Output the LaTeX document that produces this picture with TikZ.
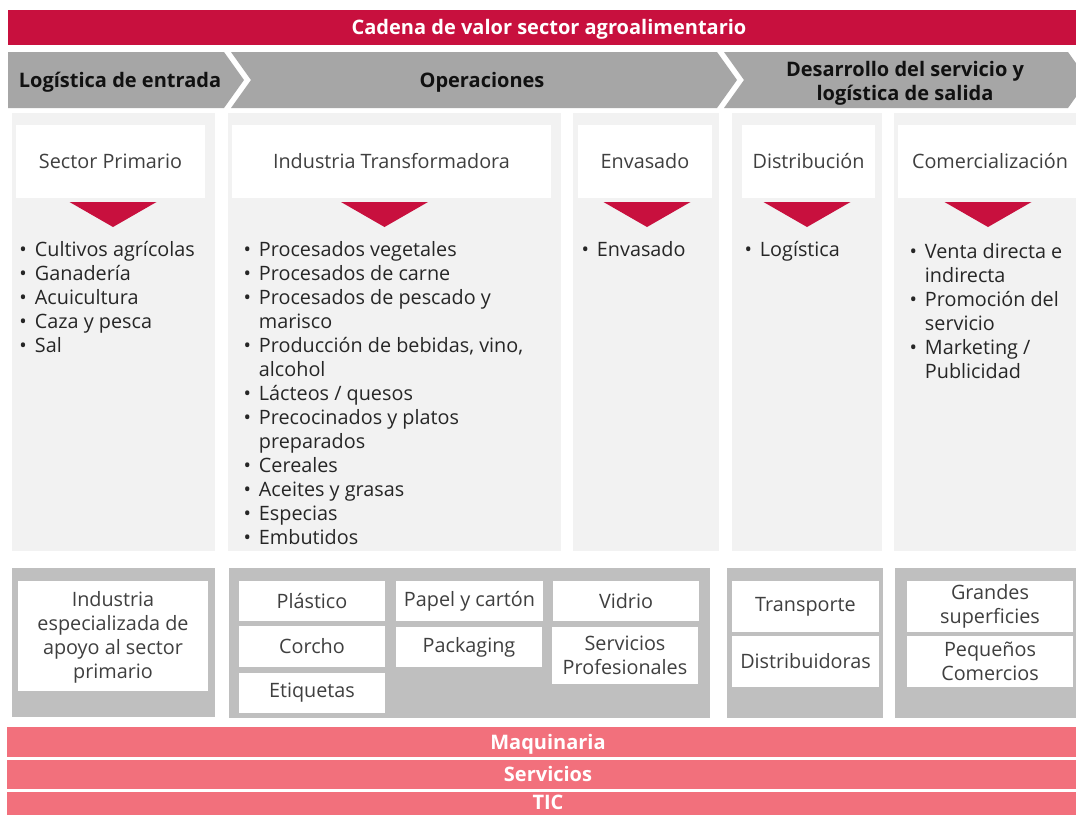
\documentclass[tikz,border=0pt]{standalone}
\usepackage{fontspec}
\setmainfont{Open Sans}
\definecolor{crimson}{HTML}{C8103E}
\definecolor{salmon}{HTML}{F2707C}
\definecolor{chevg}{HTML}{A6A6A6}
\definecolor{lightg}{HTML}{F2F2F2}
\definecolor{midg}{HTML}{BFBFBF}
\definecolor{txt}{HTML}{262626}
\definecolor{htxt}{HTML}{3F3F3F}
\definecolor{chevtxt}{HTML}{111111}
\newcommand{\regfont}{\fontsize{19.8}{24}\selectfont}
\newcommand{\boldfont}{\fontsize{20}{24}\selectfont\bfseries}
\newcommand{\blist}[1]{\begin{tabular}[t]{@{}l@{\hspace{8pt}}l@{}}#1\end{tabular}}
\begin{document}
\begin{tikzpicture}[x=1pt,y=-1pt,
 every node/.style={inner sep=0pt, outer sep=0pt},
 rect/.style={anchor=north west, draw=none},
 lpanel/.style={rect, fill=lightg},
 gpanel/.style={rect, fill=midg},
 wbox/.style={rect, fill=white, align=center, font=\regfont, text=htxt},
 bar/.style={rect, fill=salmon, font=\boldfont, text=white, text height=14.3pt, text depth=0pt},
 bartext/.style={font=\boldfont, text=white, text height=14.3pt, text depth=0pt},
 chevtext/.style={font=\boldfont, text=chevtxt, align=center},
 tri/.style={fill=crimson},
 listtext/.style={anchor=base west, font=\regfont, text=txt},
]
\useasboundingbox (0,0) rectangle (1076,815);
\fill[white] (0,0) rectangle (1076,815);

% title
\node[bar, fill=crimson, minimum width=1082pt, minimum height=35pt] (title) at (8,10) {Cadena de valor sector agroalimentario};

% chevrons
\fill[chevg] (8,52) -- (224,52) -- (244,80) -- (224,108) -- (8,108) -- cycle;
\fill[chevg] (231,52) -- (717,52) -- (737,80) -- (717,108) -- (231,108) -- (251,80) -- cycle;
\fill[chevg] (724,52) -- (1068,52) -- (1088,80) -- (1068,108) -- (724,108) -- (744,80) -- cycle;
\node[chevtext, text height=14.3pt, text depth=0pt] (ch1) at (120,80) {Logística de entrada};
\node[chevtext, text height=14.3pt, text depth=0pt] (ch2) at (482,80) {Operaciones};
\node[chevtext] (ch3) at (905,83) {Desarrollo del servicio y\\logística de salida};

% column panels
\node[lpanel, minimum width=203pt, minimum height=438pt] (c1) at (12,113) {};
\node[lpanel, minimum width=333pt, minimum height=438pt] (c2) at (228,113) {};
\node[lpanel, minimum width=146pt, minimum height=438pt] (c3) at (573,113) {};
\node[lpanel, minimum width=150pt, minimum height=438pt] (c4) at (732,113) {};
\node[lpanel, minimum width=196pt, minimum height=438pt] (c5) at (894,113) {};

% header boxes
\node[wbox, minimum width=189pt, minimum height=73pt] (h1) at (16,125) {Sector Primario};
\node[wbox, minimum width=319pt, minimum height=73pt] (h2) at (232,125) {Industria Transformadora};
\node[wbox, minimum width=134pt, minimum height=73pt] (h3) at (578,125) {Envasado};
\node[wbox, minimum width=133pt, minimum height=73pt] (h4) at (742,125) {Distribución};
\node[wbox, minimum width=184pt, minimum height=73pt] (h5) at (898,125) {Comercialización};

% triangles
\fill[tri] (69.5,202) -- (156.5,202) -- (113,227) -- cycle;
\fill[tri] (341,202) -- (428,202) -- (384.5,227) -- cycle;
\fill[tri] (603.5,202) -- (690.5,202) -- (647,227) -- cycle;
\fill[tri] (763.5,202) -- (850.5,202) -- (807,227) -- cycle;
\fill[tri] (944.5,202) -- (1031.5,202) -- (988,227) -- cycle;

% bullet lists
\node[listtext] (l1) at (19.5,256) {\blist{%
\textbullet & Cultivos agrícolas\\
\textbullet & Ganadería\\
\textbullet & Acuicultura\\
\textbullet & Caza y pesca\\
\textbullet & Sal}};
\node[listtext] (l2) at (243.5,256) {\blist{%
\textbullet & Procesados vegetales\\
\textbullet & Procesados de carne\\
\textbullet & Procesados de pescado y\\
 & marisco\\
\textbullet & Producción de bebidas, vino,\\
 & alcohol\\
\textbullet & Lácteos / quesos\\
\textbullet & Precocinados y platos\\
 & preparados\\
\textbullet & Cereales\\
\textbullet & Aceites y grasas\\
\textbullet & Especias\\
\textbullet & Embutidos}};
\node[listtext] (l3) at (581.5,256) {\blist{\textbullet & Envasado}};
\node[listtext] (l4) at (744.5,256) {\blist{\textbullet & Logística}};
\node[listtext] (l5) at (909.5,258) {\blist{%
\textbullet & Venta directa e\\
 & indirecta\\
\textbullet & Promoción del\\
 & servicio\\
\textbullet & Marketing /\\
 & Publicidad}};

% bottom panels
\node[gpanel, minimum width=203pt, minimum height=149pt] (b1) at (12,568) {};
\node[gpanel, minimum width=481pt, minimum height=150pt] (b2) at (229,568) {};
\node[gpanel, minimum width=156pt, minimum height=150pt] (b3) at (727,568) {};
\node[gpanel, minimum width=195pt, minimum height=150pt] (b4) at (895,568) {};

\node[wbox, minimum width=190pt, minimum height=108pt] (w1) at (18,583) {Industria\\especializada de\\apoyo al sector\\primario};
\fill[white] (18,581) rectangle (208,584);
\node[wbox, minimum width=146pt, minimum height=40pt] (w2) at (239,581) {Plástico};
\node[wbox, minimum width=146pt, minimum height=41pt] (w3) at (239,626) {Corcho};
\node[wbox, minimum width=146pt, minimum height=40pt] (w4) at (239,673) {Etiquetas};
\node[wbox, minimum width=147pt, minimum height=40pt] (w5) at (396,581) {Papel y cartón};
\node[wbox, minimum width=146pt, minimum height=40pt] (w6) at (396,627) {Packaging};
\node[wbox, minimum width=146pt, minimum height=40pt] (w7) at (553,581) {Vidrio};
\node[wbox, minimum width=146pt, minimum height=57pt] (w8) at (552,627) {Servicios\\Profesionales};
\node[wbox, minimum width=147pt, minimum height=51pt] (w9) at (732,581) {Transporte};
\node[wbox, minimum width=147pt, minimum height=51pt] (w10) at (732,636) {Distribuidoras};
\node[wbox, minimum width=166pt, minimum height=51pt] (w11) at (907,581) {Grandes\\superficies};
\node[wbox, minimum width=166pt, minimum height=51pt] (w12) at (907,636) {Pequeños\\Comercios};

% bottom bars
\node[bar, minimum width=1082pt, minimum height=30pt] (maq) at (7,727) {Maquinaria};
\node[bar, minimum width=1082pt, minimum height=29pt] (serv) at (7,760) {Servicios};
\node[bar, minimum width=1069pt, minimum height=23pt] (ticbar) at (7,792) {};
\node[bartext] (tic) at (548,802.5) {TIC};
\end{tikzpicture}
\end{document}
